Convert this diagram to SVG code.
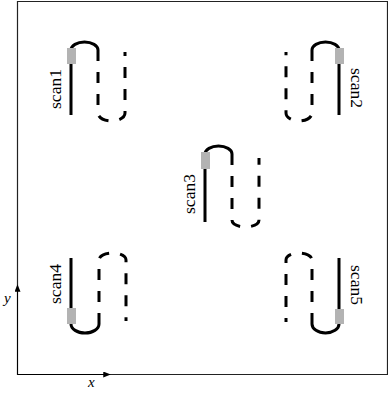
<svg xmlns="http://www.w3.org/2000/svg" width="388" height="396" viewBox="0 0 388 396">
<defs>
<style>
.frame{fill:none;stroke:#222;stroke-width:1.2}
.solid{fill:none;stroke:#000;stroke-width:3}
.dash{fill:none;stroke:#000;stroke-width:3;stroke-dasharray:11 11}
.gray{fill:#b3b3b3}
.lbl{font-family:"Liberation Serif","DejaVu Serif",serif;font-size:16px;fill:#000;text-anchor:middle}
.ax{font-family:"Liberation Serif","DejaVu Serif",serif;font-size:15px;font-style:italic;fill:#000}
</style>
<marker id="ah" viewBox="0 0 10 8" refX="9" refY="4" markerWidth="8" markerHeight="6" markerUnits="userSpaceOnUse" orient="auto">
<path d="M0,0 L10,4 L0,8 Z" fill="#000"/>
</marker>
</defs>
<rect width="388" height="396" fill="#fff"/>
<g id="frame">
<path class="frame" d="M17.5,374.5 V1.5 H387.5 V374.5 Z"/>
</g>
<g id="connectors">
<line x1="17.5" y1="374.5" x2="17.5" y2="285" stroke="#000" stroke-width="1" marker-end="url(#ah)"/>
<line x1="17.5" y1="374.5" x2="110" y2="374.5" stroke="#000" stroke-width="1" marker-end="url(#ah)"/>
</g>
<text class="ax" x="4" y="303">y</text>
<text class="ax" x="88" y="387">x</text>
<g id="scan1">
<path class="solid" d="M71,115 V50 A13.5,8 0 0 1 98,50"/>
<path class="dash" d="M98,50 V113 A13.5,8 0 0 0 125,113 V52"/>
<rect class="gray" x="67" y="48" width="9" height="16"/>
<text class="lbl" transform="translate(60.5,89) rotate(-90)" textLength="40" lengthAdjust="spacingAndGlyphs">scan1</text>
</g>
<g id="scan2">
<path class="solid" d="M339,115 V50 A13.5,8 0 0 0 312,50"/>
<path class="dash" d="M312,50 V113 A13,8 0 0 1 286,113 V52"/>
<rect class="gray" x="335" y="48" width="9" height="16"/>
<text class="lbl" transform="translate(351,88) rotate(90)" textLength="40" lengthAdjust="spacingAndGlyphs">scan2</text>
</g>
<g id="scan3">
<path class="solid" d="M205,222 V154 A13.5,8 0 0 1 232,154"/>
<path class="dash" d="M232,154 V220 A13.5,7 0 0 0 259,220 V158"/>
<rect class="gray" x="201" y="152" width="9" height="17"/>
<text class="lbl" transform="translate(195,194) rotate(-90)" textLength="40" lengthAdjust="spacingAndGlyphs">scan3</text>
</g>
<g id="scan4">
<path class="solid" d="M71,258 V324 A14,9 0 0 0 99,324"/>
<path class="dash" d="M99,324 V260 A13.5,7 0 0 1 126,260 V321"/>
<rect class="gray" x="67" y="308" width="9" height="16"/>
<text class="lbl" transform="translate(60.5,284) rotate(-90)" textLength="40" lengthAdjust="spacingAndGlyphs">scan4</text>
</g>
<g id="scan5">
<path class="solid" d="M339,258 V324 A13.5,9 0 0 1 312,324"/>
<path class="dash" d="M312,324 V260 A13,7 0 0 0 286,260 V322"/>
<rect class="gray" x="335" y="309" width="9" height="15"/>
<text class="lbl" transform="translate(351,285) rotate(90)" textLength="40" lengthAdjust="spacingAndGlyphs">scan5</text>
</g>
</svg>
